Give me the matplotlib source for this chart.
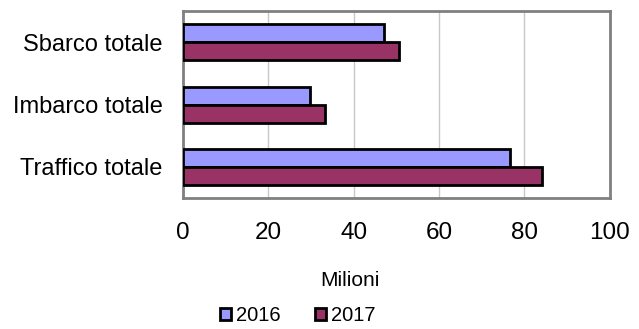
import numpy as np
import matplotlib
matplotlib.use("Agg")
import matplotlib.pyplot as plt

plt.rcParams['font.family'] = ['Liberation Sans', 'DejaVu Sans']

categories = ['Traffico totale', 'Imbarco totale', 'Sbarco totale']
values_2016 = [76.6, 29.7, 47.0]
values_2017 = [84.0, 33.3, 50.7]
series_labels = ['2016', '2017']
colors = ['#9999FF', '#993366']

fig = plt.figure(figsize=(6.39, 3.29), dpi=100)
ax = fig.add_axes([0.2864, 0.398, 0.668, 0.568])

y = np.arange(len(categories))
h = 0.29
ax.barh(y + h / 2, values_2016, height=h, color=colors[0], edgecolor='black',
        linewidth=2, label=series_labels[0], zorder=3)
ax.barh(y - h / 2, values_2017, height=h, color=colors[1], edgecolor='black',
        linewidth=2, label=series_labels[1], zorder=3)

ax.set_xlim(0, 100)
ax.set_ylim(-0.5, 2.5)
ax.set_xticks([0, 20, 40, 60, 80, 100])
ax.set_yticks(y)
ax.set_yticklabels(categories, fontsize=17)
ax.tick_params(axis='x', labelsize=17.5, length=0, pad=17.5)
ax.tick_params(axis='y', length=0, pad=14.5)
ax.xaxis.grid(True, color='#c8c8c8', linewidth=1, zorder=0)
for s in ax.spines.values():
    s.set_color('#808080')
    s.set_linewidth(2)

# axis title sits left of the axes centre in the original
fig.text(350 / 639, 1 - 280 / 329, 'Milioni', fontsize=15, ha='center', va='center')

handles, labels = ax.get_legend_handles_labels()
fig.legend(handles, labels, loc='center', bbox_to_anchor=(0.466, 0.04),
           ncol=2, frameon=False, fontsize=14.5, handlelength=0.5,
           handleheight=0.5, handletextpad=0.25, columnspacing=1.75)

fig.savefig('out.png', dpi=100)
